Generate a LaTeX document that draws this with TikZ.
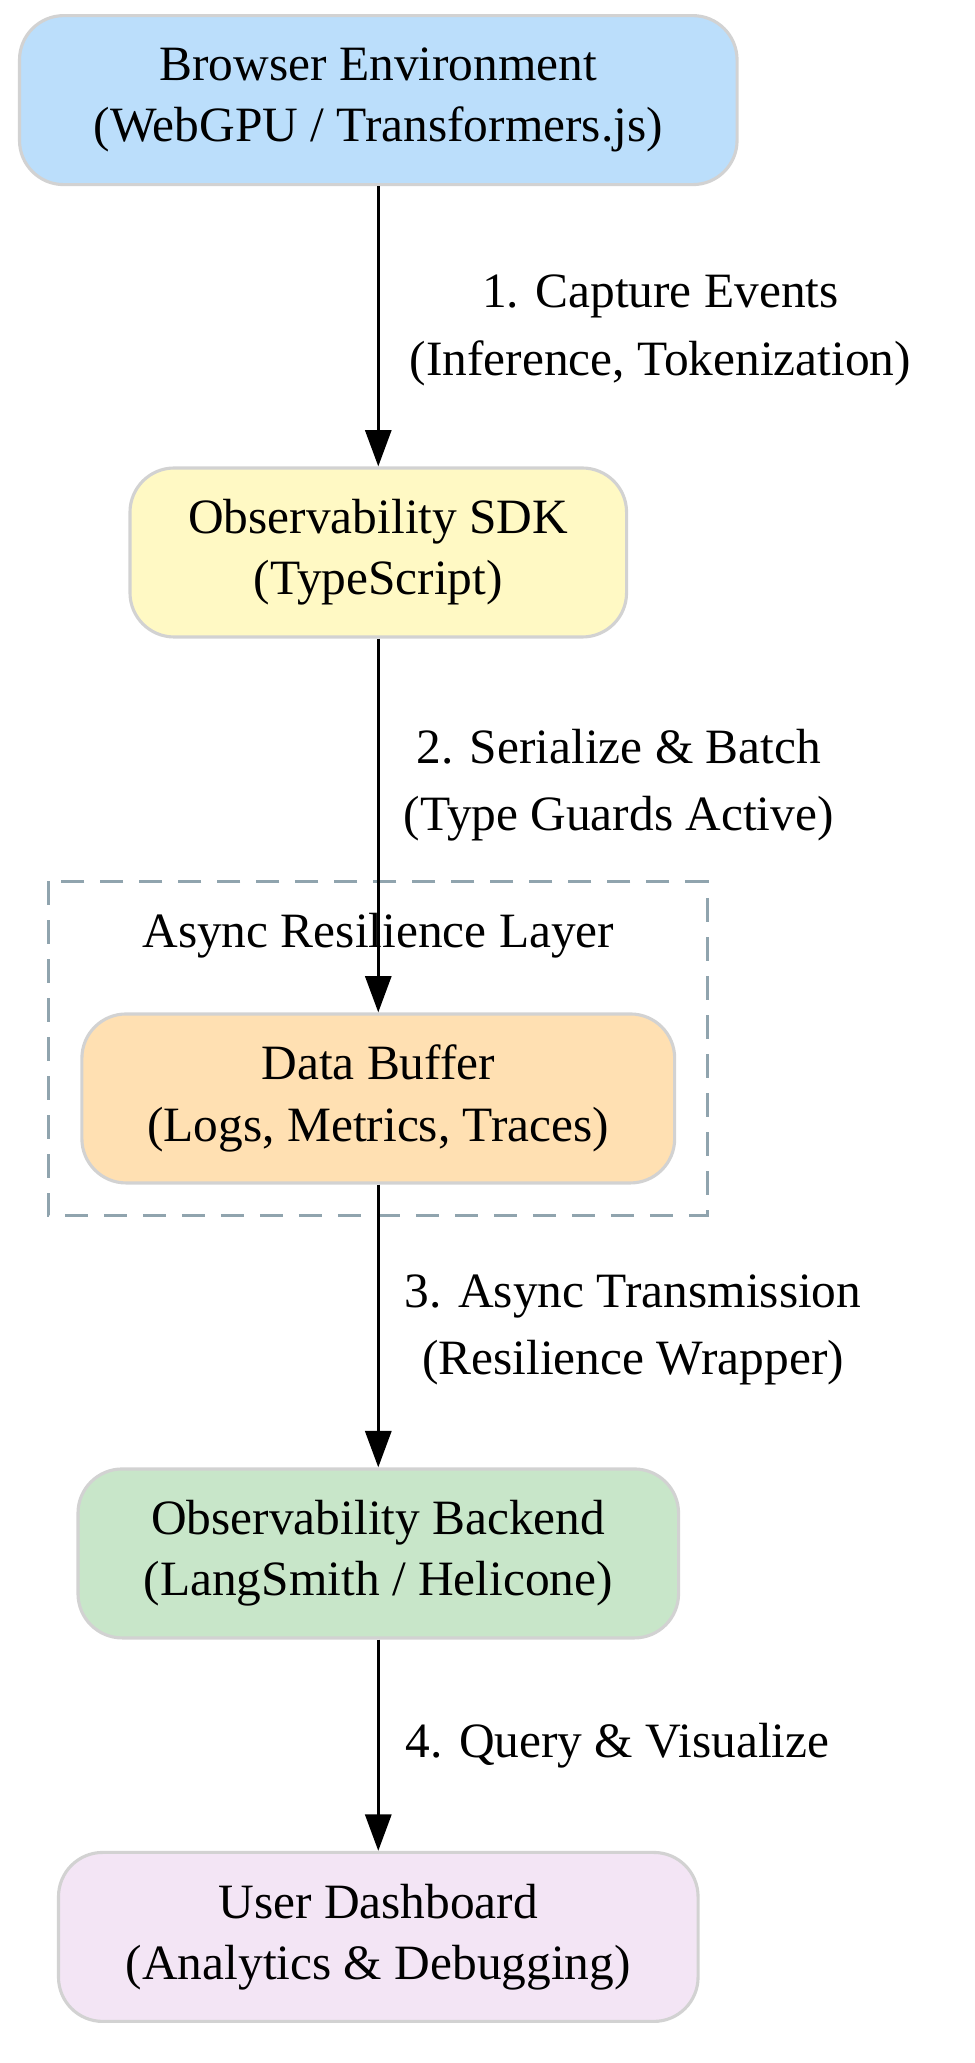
\documentclass[tikz,border=0pt]{standalone}
\usepackage{fontspec}
\setmainfont{Liberation Serif}
\usetikzlibrary{arrows.meta, positioning}
\definecolor{browserblue}{HTML}{BBDEFB}
\definecolor{sdkyellow}{HTML}{FFF9C4}
\definecolor{bufferorange}{HTML}{FFE0B2}
\definecolor{backendgreen}{HTML}{C8E6C9}
\definecolor{dashpurple}{HTML}{F3E5F5}
\definecolor{clustergray}{HTML}{90A4AE}

\tikzset{
    box/.style={draw=gray!35, line width=1.2pt, rounded corners=17pt, align=center,
        minimum height=65pt, font=\fontsize{19}{23.5}\selectfont},
    flow/.style={-{Triangle[length=14pt, width=10pt]}, line width=1.2pt},
    lbl/.style={align=center, font=\fontsize{19}{26}\selectfont}
}

\begin{document}
\begin{tikzpicture}[x=0.5pt, y=-0.5pt]
    \useasboundingbox (0,0) rectangle (750,1587);

    % Resilience cluster
    \draw[clustergray, dash pattern=on 9pt off 6pt, line width=1.2pt] (37,678) rectangle (544,935);
    \node[lbl] (layer) at (291,720) {Async Resilience Layer};

    % Components
    \node[box, fill=browserblue, minimum width=276pt] (browser) at (291,77)
        {Browser Environment\\(WebGPU / Transformers.js)};
    \node[box, fill=sdkyellow, minimum width=191pt] (sdk) at (291,425)
        {Observability SDK\\(TypeScript)};
    \node[box, fill=bufferorange, minimum width=228pt] (buffer) at (291,845)
        {Data Buffer\\(Logs, Metrics, Traces)};
    \node[box, fill=backendgreen, minimum width=231pt] (backend) at (291,1195)
        {Observability Backend\\(LangSmith / Helicone)};
    \node[box, fill=dashpurple, minimum width=246pt] (dash) at (291,1490)
        {User Dashboard\\(Analytics \& Debugging)};

    % Flow
    \draw[flow] (browser) -- (sdk);
    \draw[flow] (sdk) -- (buffer);
    \draw[flow] (buffer) -- (backend);
    \draw[flow] (backend) -- (dash);

    % Edge labels
    \node[lbl] (l1) at (508,254) {1. Capture Events\\(Inference, Tokenization)};
    \node[lbl] (l2) at (476,604) {2. Serialize \& Batch\\(Type Guards Active)};
    \node[lbl] (l3) at (487,1023) {3. Async Transmission\\(Resilience Wrapper)};
    \node[lbl] (l4) at (475,1343) {4. Query \& Visualize};
\end{tikzpicture}
\end{document}
